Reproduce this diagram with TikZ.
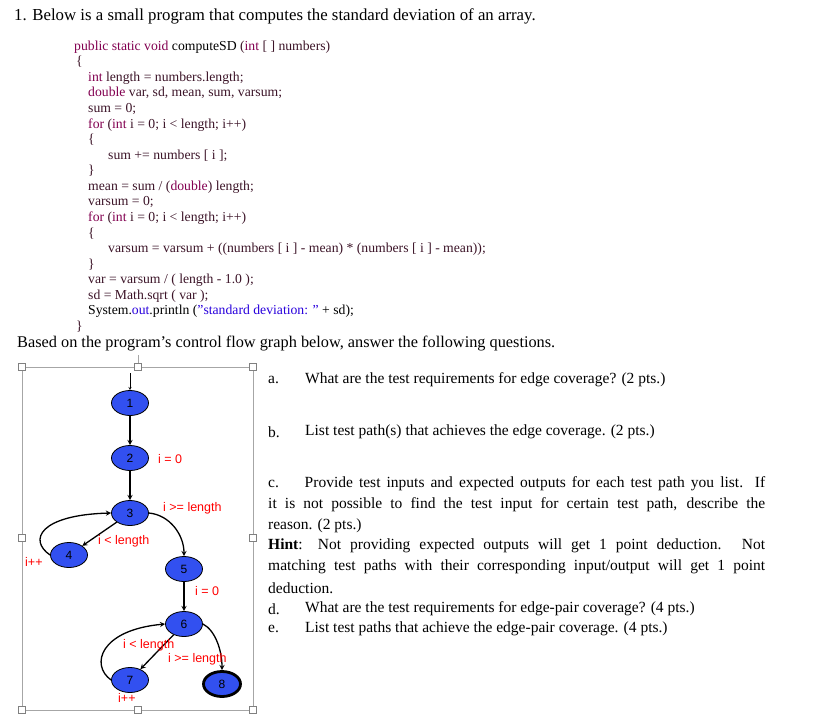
\documentclass[tikz,border=0pt]{standalone}
\usepackage{fontspec}
\usetikzlibrary{shapes.geometric}
\setmainfont{Liberation Serif}
\newfontfamily\gsans{Liberation Sans}
\definecolor{kw}{RGB}{130,0,80}
\definecolor{tx}{RGB}{60,20,40}
\definecolor{st}{RGB}{40,0,220}
\definecolor{nb}{RGB}{50,80,240}
\begin{document}
\begin{tikzpicture}[x=1pt,y=-1pt,
  cl/.style={anchor=west,inner sep=0pt,font=\fontsize{13.7}{15}\selectfont,text=tx},
  tl/.style={anchor=west,inner sep=0pt,font=\fontsize{15.5}{17}\selectfont},
  nd/.style={ellipse,draw,line width=0.8pt,fill=nb,minimum width=37pt,minimum height=25pt,inner sep=0pt,font=\gsans\fontsize{12}{12}\selectfont},
  lb/.style={text=red,inner sep=0pt,font=\gsans\fontsize{12.5}{12}\selectfont,anchor=west},
  ed/.style={line width=1.3pt,-stealth},
  hd/.style={draw=gray,fill=white,minimum size=7pt,inner sep=0pt}]
\useasboundingbox (0,0) rectangle (832,720);
\node[tl,font=\fontsize{16.8}{18}\selectfont] (title) at (14,16) {1. Below is a small program that computes the standard deviation of an array.};
% code
\node[cl] (c1) at (74,47) {\textcolor{kw}{public static void} \textcolor{black}{computeSD} (\textcolor{kw}{int} [ ] numbers)};
\node[cl] (c2) at (76,62) {\{};
\node[cl] (c3) at (88,78) {\textcolor{kw}{int} length = numbers.length;};
\node[cl] (c4) at (88,93) {\textcolor{kw}{double} var, sd, mean, sum, varsum;};
\node[cl] (c5) at (88,109) {sum = 0;};
\node[cl] (c6) at (88,125) {\textcolor{kw}{for} (\textcolor{kw}{int} i = 0; i < length; i++)};
\node[cl] (c7) at (88,140) {\{};
\node[cl] (c8) at (108,156) {sum += numbers [ i ];};
\node[cl] (c9) at (88,171) {\}};
\node[cl] (c10) at (88,187) {mean = sum / (\textcolor{kw}{double}) length;};
\node[cl] (c11) at (88,202) {varsum = 0;};
\node[cl] (c12) at (88,218) {\textcolor{kw}{for} (\textcolor{kw}{int} i = 0; i < length; i++)};
\node[cl] (c13) at (88,234) {\{};
\node[cl] (c14) at (108,249) {varsum = varsum + ((numbers [ i ] - mean) * (numbers [ i ] - mean));};
\node[cl] (c15) at (88,265) {\}};
\node[cl] (c16) at (88,280) {var = varsum / ( length - 1.0 );};
\node[cl] (c17) at (88,296) {sd = Math.sqrt ( var );};
\node[cl] (c18) at (88,311) {\textcolor{black}{System.}\textcolor{st}{out}\textcolor{black}{.println (}\textcolor{st}{"standard deviation: "} \textcolor{black}{+ sd);}};
\node[cl] (c19) at (76,327) {\}};
\node[tl,font=\fontsize{16.3}{18}\selectfont] (based) at (17,344) {Based on the program’s control flow graph below, answer the following questions.};
% frame
\draw[gray!70] (22,367) rectangle (253,710);
\draw[gray!70] (138,355) -- (138,367);
\foreach \p in {(22,367),(138,367),(253,367),(22,538),(253,538),(22,710),(138,710),(253,710)} \node[hd] at \p {};
% graph
\node[nd] (n1) at (130,403) {1};
\node[nd] (n2) at (130,458) {2};
\node[nd] (n3) at (130,513) {3};
\node[nd] (n4) at (69,555) {4};
\node[nd] (n5) at (184,569) {5};
\node[nd] (n6) at (184,624) {6};
\node[nd] (n7) at (130,680) {7};
\node[nd,line width=2.8pt] (n8) at (222,684) {8};
\coordinate (start) at (130,373);
\draw[-stealth] (start) -- (n1);
\draw[ed] (n1) -- (n2);
\draw[ed] (n2) -- (n3);
\draw[ed] (n3) -- (n4);
\draw[ed] (n4.west) .. controls (28,540) and (40,515) .. (n3.west);
\draw[ed] (n3.east) .. controls (170,515) and (184,535) .. (n5.north);
\draw[ed] (n5) -- (n6);
\draw[ed] (n6) -- (n7);
\draw[ed] (n7.west) .. controls (90,665) and (100,630) .. (n6.west);
\draw[ed] (n6.east) .. controls (215,630) and (222,650) .. (n8.north);
\node[lb] (l1) at (158,459) {i = 0};
\node[lb] (l2) at (163,508) {i >= length};
\node[lb] (l3) at (98,541) {i < length};
\node[lb] (l4) at (25,562) {i++};
\node[lb] (l5) at (195,591) {i = 0};
\node[lb] (l6) at (123,645) {i < length};
\node[lb] (l7) at (168,659) {i >= length};
\node[lb] (l8) at (118,698) {i++};
% questions
\node[tl] (qa) at (268,380) {a.};
\node[tl] (qat) at (305,380) {What are the test requirements for edge coverage? (2 pts.)};
\node[tl] (qb) at (268,432) {b.};
\node[tl] (qbt) at (305,432) {List test path(s) that achieves the edge coverage. (2 pts.)};
\node[tl] (qc) at (268,484) {\makebox[497pt][s]{c.\hspace{14pt} Provide test inputs and expected outputs for each test path you list. If}};
\node[tl] (qc2) at (268,505) {\makebox[497pt][s]{it is not possible to find the test input for certain test path, describe the}};
\node[tl] (qc3) at (268,526) {reason. (2 pts.)};
\node[tl] (h1) at (268,546) {\makebox[497pt][s]{\textbf{Hint}: Not providing expected outputs will get 1 point deduction. Not}};
\node[tl] (h2) at (268,567) {\makebox[497pt][s]{matching test paths with their corresponding input/output will get 1 point}};
\node[tl] (h3) at (268,588) {deduction.};
\node[tl] (qd) at (268,609) {d.};
\node[tl] (qdt) at (305,609) {What are the test requirements for edge-pair coverage? (4 pts.)};
\node[tl] (qe) at (268,629) {e.};
\node[tl] (qet) at (305,629) {List test paths that achieve the edge-pair coverage. (4 pts.)};
\end{tikzpicture}
\end{document}
